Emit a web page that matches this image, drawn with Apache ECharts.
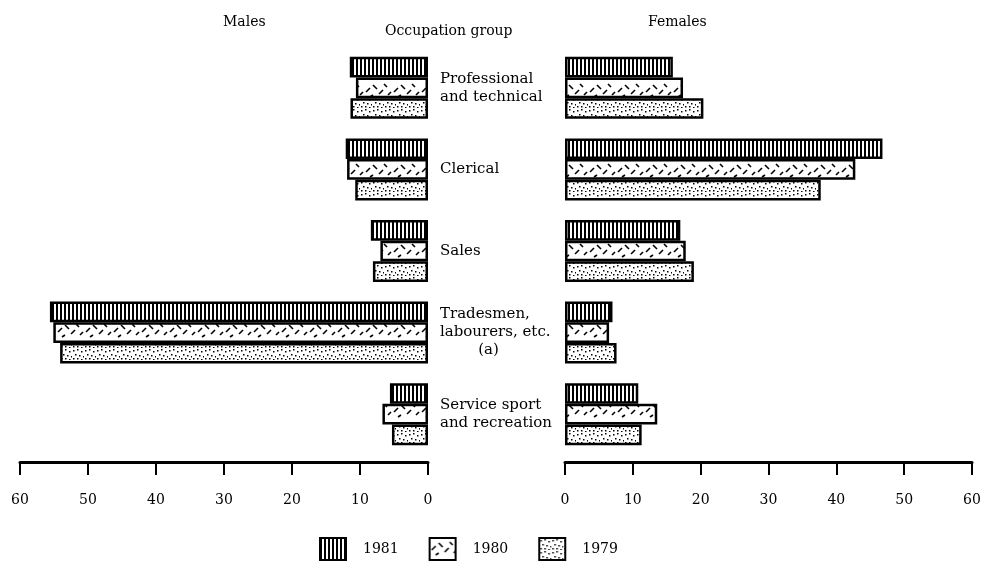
<!DOCTYPE html>
<html>
<head>
<meta charset="utf-8">
<script src="https://cdn.jsdelivr.net/npm/echarts@6/dist/echarts.min.js"></script>
<style>
  html, body { margin: 0; padding: 0; background: #fff; }
  #chart { width: 990px; height: 586px; }
</style>
</head>
<body>
<div id="chart"></div>
<script>
// occupation groups, top to bottom
const categories = [
  'Professional\nand technical',
  'Clerical',
  'Sales',
  'Tradesmen,\nlabourers, etc.\n        (a)',
  'Service sport\nand recreation'
];
const years = ['1981', '1980', '1979'];

// percentages
const males1981 = [11.5, 12.1, 8.4, 55.6, 5.6];
const males1980 = [10.6, 11.9, 7.0, 55.1, 6.7];
const males1979 = [11.4, 10.7, 8.1, 54.1, 5.3];
const females1981 = [15.9, 46.8, 17.0, 7.0, 10.8];
const females1980 = [17.4, 42.8, 17.8, 6.5, 13.6];
const females1979 = [20.4, 37.7, 19.0, 7.6, 11.3];

const SERIF = '"DejaVu Serif", "Liberation Serif", serif';

// hatch patterns for the three years
function stripes() {
  const c = document.createElement('canvas');
  c.width = 4; c.height = 4;
  const g = c.getContext('2d');
  g.fillStyle = '#fff'; g.fillRect(0, 0, 4, 4);
  g.fillStyle = '#000'; g.fillRect(0, 0, 2, 4);
  return c;
}
function dashes() {
  const c = document.createElement('canvas');
  c.width = 28; c.height = 20;
  const g = c.getContext('2d');
  g.fillStyle = '#fff'; g.fillRect(0, 0, 28, 20);
  g.strokeStyle = '#000'; g.lineWidth = 1.6;
  const segs = [[2, 12, 6, 8], [9, 5, 13, 9], [15, 14, 19, 10], [20, 4, 23, 7], [24, 15, 27, 12], [6, 17, 9, 15]];
  segs.forEach(s => { g.beginPath(); g.moveTo(s[0], s[1]); g.lineTo(s[2], s[3]); g.stroke(); });
  return c;
}
function dots() {
  const c = document.createElement('canvas');
  c.width = 12; c.height = 12;
  const g = c.getContext('2d');
  g.fillStyle = '#fff'; g.fillRect(0, 0, 12, 12);
  g.fillStyle = '#000';
  const pts = [[1, 2], [5, 1], [9, 3], [3, 6], [7, 7], [11, 8], [1, 10], [5, 10], [9, 11]];
  pts.forEach(p => g.fillRect(p[0], p[1], 1.5, 1.5));
  return c;
}
const fills = [
  { image: stripes(), repeat: 'repeat' },
  { image: dashes(), repeat: 'repeat' },
  { image: dots(), repeat: 'repeat' }
];

const chart = echarts.init(document.getElementById('chart'));

const axisCommon = {
  type: 'value', min: 0, max: 60, interval: 10,
  offset: 7,
  splitLine: { show: false },
  axisLine: { show: true, lineStyle: { color: '#000', width: 3 } },
  axisTick: { show: true, length: 13, lineStyle: { color: '#000', width: 2 } },
  axisLabel: { color: '#000', fontFamily: SERIF, fontSize: 14, margin: 31 }
};

function makeSeries(data, idx, axisIdx) {
  return {
    name: years[idx], type: 'bar',
    xAxisIndex: axisIdx, yAxisIndex: axisIdx,
    data: data,
    barGap: '0%', barCategoryGap: '24%',
    itemStyle: { color: fills[idx], borderColor: '#000', borderWidth: 2.5 },
    emphasis: { disabled: true }
  };
}

const titleStyle = { fontFamily: SERIF, fontSize: 14, fontWeight: 'normal', color: '#000' };

chart.setOption({
  animation: false,
  backgroundColor: '#fff',
  title: [
    { text: 'Males', left: 218, top: 10, textStyle: titleStyle },
    { text: 'Occupation group', left: 380, top: 19, textStyle: titleStyle },
    { text: 'Females', left: 643, top: 10, textStyle: titleStyle }
  ],
  legend: {
    data: years,
    icon: 'rect',
    left: 314, top: 532,
    itemWidth: 26, itemHeight: 22, itemGap: 30,
    textStyle: { fontFamily: SERIF, fontSize: 14, color: '#000', padding: [0, 0, 0, 12] },
    selectedMode: false
  },
  grid: [
    { left: 20, right: 562, top: 47, height: 408 },
    { left: 565, right: 18, top: 47, height: 408 }
  ],
  xAxis: [
    Object.assign({ gridIndex: 0, inverse: true }, axisCommon),
    Object.assign({ gridIndex: 1 }, axisCommon)
  ],
  yAxis: [
    {
      type: 'category', gridIndex: 0, data: categories, inverse: true, position: 'right',
      axisLine: { show: false }, axisTick: { show: false },
      axisLabel: { color: '#000', fontFamily: SERIF, fontSize: 15, lineHeight: 18, align: 'left', margin: 12 }
    },
    {
      type: 'category', gridIndex: 1, data: categories, inverse: true,
      axisLine: { show: false }, axisTick: { show: false }, axisLabel: { show: false }
    }
  ],
  series: [
    makeSeries(males1981, 0, 0),
    makeSeries(males1980, 1, 0),
    makeSeries(males1979, 2, 0),
    makeSeries(females1981, 0, 1),
    makeSeries(females1980, 1, 1),
    makeSeries(females1979, 2, 1)
  ]
});
</script>
</body>
</html>
